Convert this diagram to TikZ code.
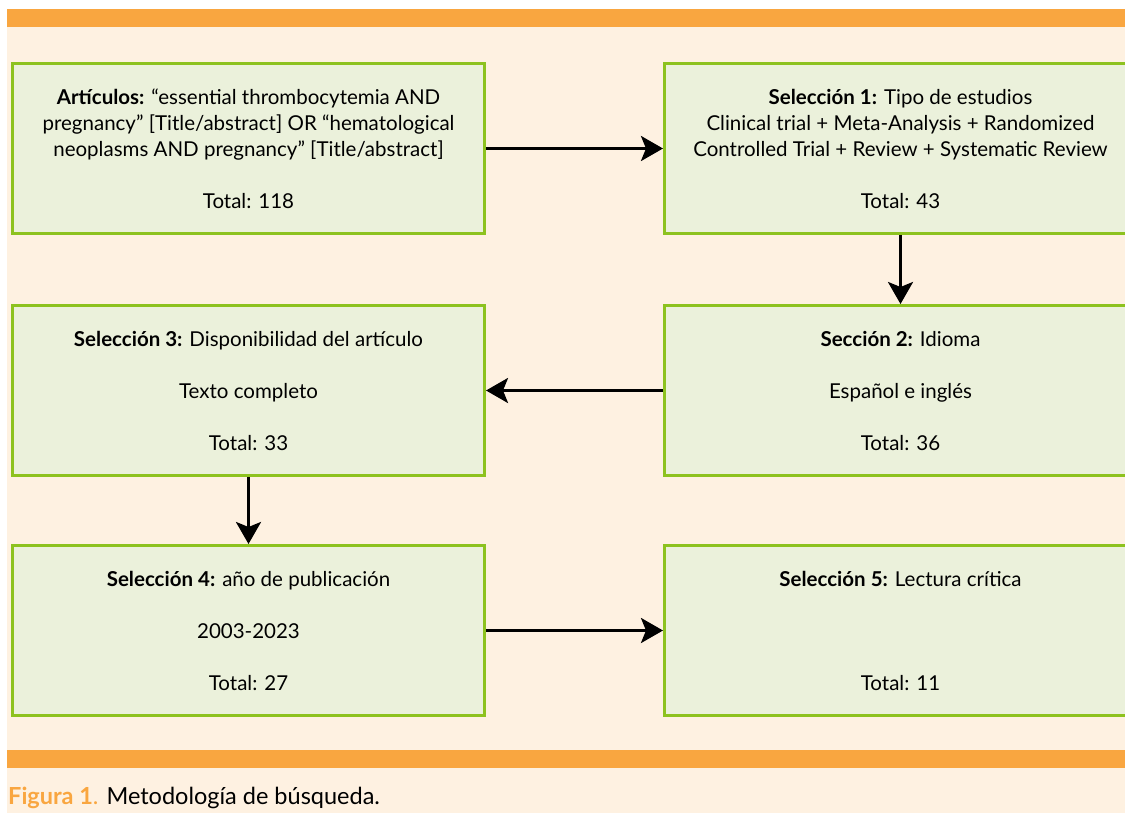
\documentclass[tikz,border=0pt]{standalone}
\usepackage{fontspec}
\setmainfont{Lato}
\usetikzlibrary{arrows.meta}
\definecolor{bgbeige}{HTML}{FEF1E1}
\definecolor{barorange}{HTML}{F9A640}
\definecolor{boxgreen}{HTML}{8DC21F}
\definecolor{boxfill}{HTML}{EBF1DB}
\begin{document}
\begin{tikzpicture}[x=1pt,y=-1pt,
  box/.style={draw=boxgreen, line width=3pt, fill=boxfill, minimum width=472pt, minimum height=170pt, align=center, inner sep=0pt, font=\fontsize{20.5}{26}\selectfont},
  arr/.style={line width=3pt, -{Stealth[length=22pt,width=25pt,inset=5pt]}}]
\useasboundingbox (0,0) rectangle (1125,813);
\clip (0,0) rectangle (1125,813);
\fill[white] (0,0) rectangle (1125,813);
\fill[bgbeige] (7,27.5) rectangle (1125,813);
\fill[barorange] (7,9.5) rectangle (1125,27.5);
\fill[barorange] (7,750) rectangle (1125,768);

\node[box] (b1) at (248.5,148.5) {\textbf{Artículos:} “essential thrombocytemia AND\\ pregnancy” [Title/abstract] OR “hematological\\ neoplasms AND pregnancy” [Title/abstract]\\[26pt] Total: 118};
\node[box] (b2) at (900.5,148.5) {\textbf{Selección 1:} Tipo de estudios\\ Clinical trial + Meta-Analysis + Randomized\\ Controlled Trial + Review + Systematic Review\\[26pt] Total: 43};
\node[box] (b3) at (248.5,390.5) {\textbf{Selección 3:} Disponibilidad del artículo\\[26pt] Texto completo\\[26pt] Total: 33};
\node[box] (b4) at (900.5,390.5) {\textbf{Sección 2:} Idioma\\[26pt] Español e inglés\\[26pt] Total: 36};
\node[box] (b5) at (248.5,630.5) {\textbf{Selección 4:} año de publicación\\[26pt] 2003-2023\\[26pt] Total: 27};
\node[box] (b6) at (900.5,630.5) {\textbf{Selección 5:} Lectura crítica\\[26pt] \mbox{}\\[26pt] Total: 11};

\draw[arr] (b1.east) -- (b2.west);
\draw[arr] (b2.south) -- (b4.north);
\draw[arr] (b4.west) -- (b3.east);
\draw[arr] (b3.south) -- (b5.north);
\draw[arr] (b5.east) -- (b6.west);

\node[anchor=west, inner sep=0pt, font=\fontsize{23.5}{28}\selectfont] (cap) at (8,798) {{\color{barorange}\textbf{Figura 1}.} Metodología de búsqueda.};
\end{tikzpicture}
\end{document}
